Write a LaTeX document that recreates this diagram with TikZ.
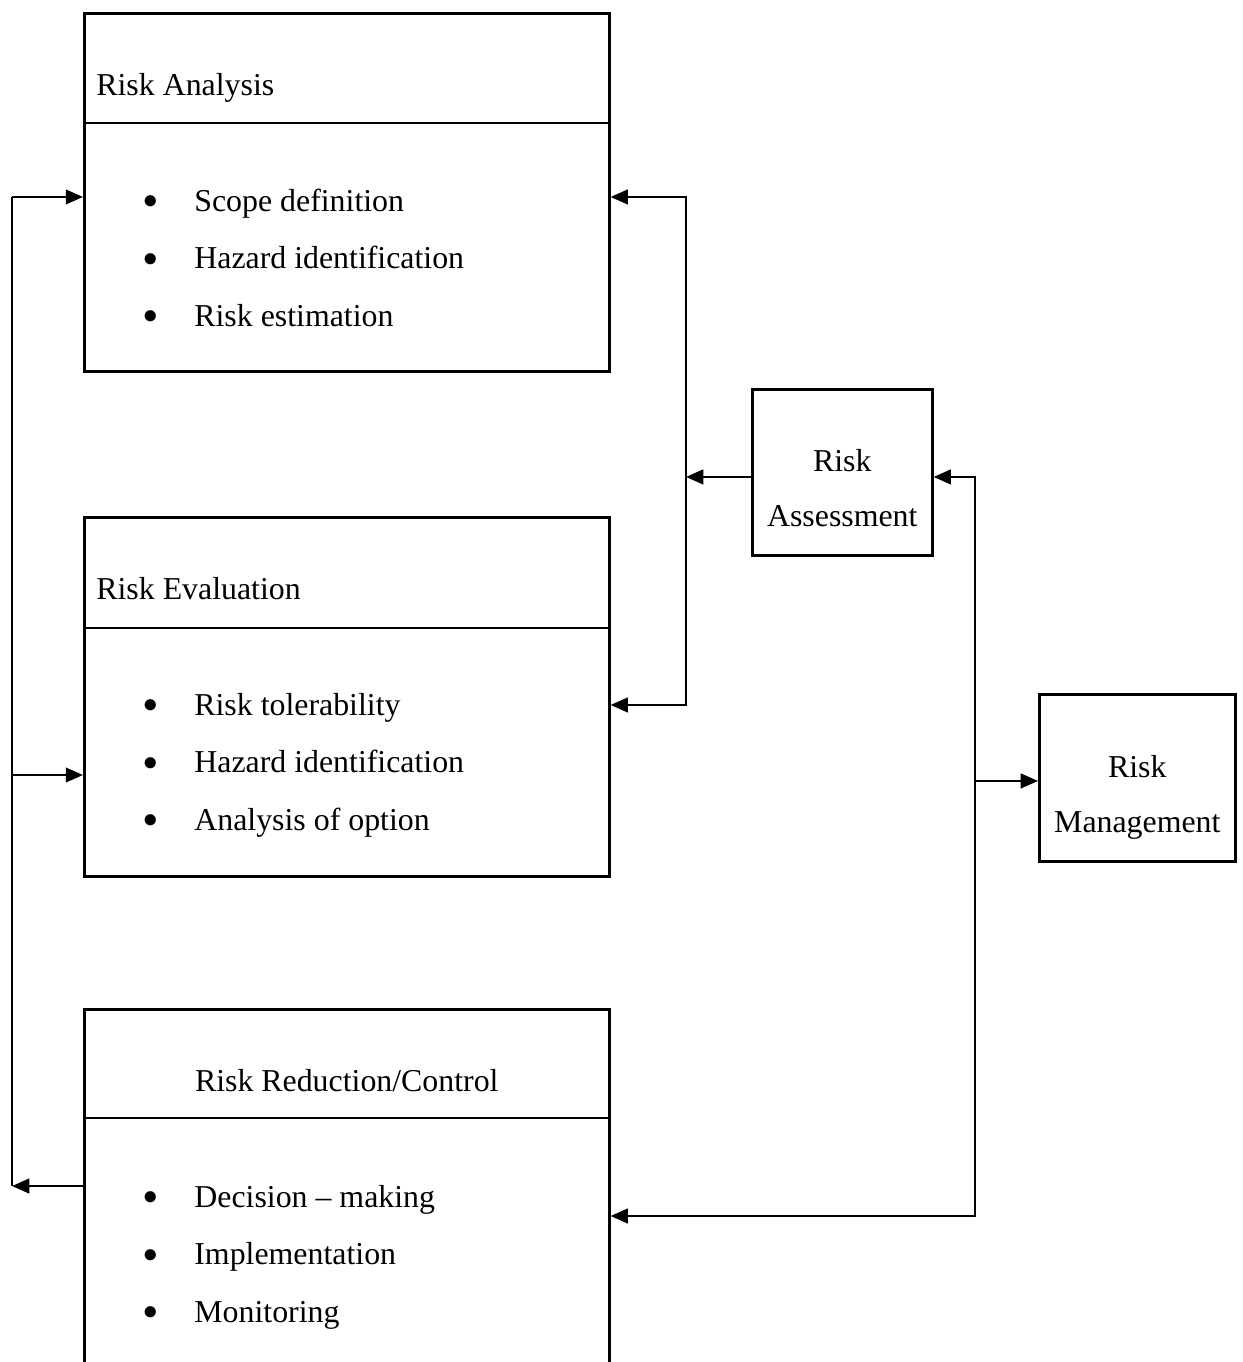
\documentclass[tikz,border=0pt]{standalone}
\usepackage{fontspec}
\setmainfont{Liberation Serif}
\usetikzlibrary{arrows.meta, calc, positioning}

\newcommand{\itemdot}{\raisebox{1pt}{\fontsize{11}{11}\selectfont$\bullet$}\hspace{0.475cm}}

\begin{document}
\begin{tikzpicture}[
    riskbox/.style={draw, line width=1pt, inner sep=0pt, anchor=north west},
    bigbox/.style={riskbox, minimum width=6.95cm},
    txt/.style={inner sep=0pt, anchor=base west},
    ctxt/.style={inner sep=0pt, anchor=base, align=center},
    link/.style={line width=0.9pt},
    every node/.style={font=\fontsize{12}{20.7}\selectfont},
    >={Triangle[length=6.5pt, width=5.5pt]},
  ]

  \useasboundingbox (0,0) rectangle (16.457,-18.033);
  \clip (0,0) rectangle (16.457,-18.033);

  % Boxes
  \node[bigbox, minimum height=4.74cm] (Analysis) at (1.099,-0.159) {};
  \node[bigbox, minimum height=4.753cm] (Evaluation) at (1.099,-6.832) {};
  \node[bigbox, minimum height=6cm] (Reduction) at (1.099,-13.346) {}; % runs off the bottom
  \node[riskbox, minimum width=2.383cm, minimum height=2.198cm] (Assessment) at (9.943,-5.137) {};
  \node[riskbox, minimum width=2.595cm, minimum height=2.211cm] (Management) at (13.743,-9.175) {};

  \draw[line width=1pt] ($(Analysis.north west)+(0,-1.47)$) -- ($(Analysis.north east)+(0,-1.47)$);
  \draw[line width=1pt] ($(Evaluation.north west)+(0,-1.483)$) -- ($(Evaluation.north east)+(0,-1.483)$);
  \draw[line width=1pt] ($(Reduction.north west)+(0,-1.456)$) -- ($(Reduction.north east)+(0,-1.456)$);

  % Texts
  \node[txt] (AnalysisHead) at ($(Analysis.north west)+(0.17,-1.099)$) {Risk Analysis};
  \node[txt] (Scope) at ($(Analysis.north west)+(0.8,-2.641)$) {\itemdot Scope definition};
  \node[txt] (HazardA) at ($(Scope.base west)+(0,-0.761)$) {\itemdot Hazard identification};
  \node[txt] (Estimation) at ($(HazardA.base west)+(0,-0.761)$) {\itemdot Risk estimation};

  \node[txt] (EvaluationHead) at ($(Evaluation.north west)+(0.17,-1.099)$) {Risk Evaluation};
  \node[txt] (Tolerability) at ($(Evaluation.north west)+(0.8,-2.641)$) {\itemdot Risk tolerability};
  \node[txt] (HazardE) at ($(Tolerability.base west)+(0,-0.761)$) {\itemdot Hazard identification};
  \node[txt] (Options) at ($(HazardE.base west)+(0,-0.761)$) {\itemdot Analysis of option};

  \node[ctxt] (ReductionHead) at ($(Reduction.north)+(0,-1.099)$) {Risk Reduction/Control};
  \node[txt] (Decision) at ($(Reduction.north west)+(0.8,-2.641)$) {\itemdot Decision – making};
  \node[txt] (Implementation) at ($(Decision.base west)+(0,-0.761)$) {\itemdot Implementation};
  \node[txt] (Monitoring) at ($(Implementation.base west)+(0,-0.761)$) {\itemdot Monitoring};

  \node[ctxt] (AssessmentText) at ($(Assessment.north)+(0,-1.836)$) {Risk\\Assessment};
  \node[ctxt] (ManagementText) at ($(Management.north)+(0,-1.853)$) {Risk\\Management};

  % Connections
  \coordinate (LeftBus) at (0.159,0);
  \coordinate (MidBus) at (9.083,0);
  \coordinate (RightBus) at (12.909,0);
  \coordinate (AnalysisL) at ($(Analysis.north west)+(0,-2.449)$);
  \coordinate (EvaluationL) at ($(Evaluation.north west)+(0,-3.429)$);
  \coordinate (ReductionL) at ($(Reduction.north west)+(0,-2.357)$);
  \coordinate (AnalysisR) at ($(Analysis.north east)+(0,-2.449)$);
  \coordinate (EvaluationR) at ($(Evaluation.north east)+(0,-2.502)$);
  \coordinate (ReductionR) at ($(Reduction.north east)+(0,-2.754)$);
  \coordinate (AssessmentL) at ($(Assessment.north west)+(0,-1.178)$);
  \coordinate (AssessmentR) at ($(Assessment.north east)+(0,-1.178)$);
  \coordinate (ManagementL) at ($(Management.north west)+(0,-1.165)$);

  \draw[link, ->] (ReductionL) -- (ReductionL -| LeftBus);
  \draw[link] (ReductionL -| LeftBus) -- (AnalysisL -| LeftBus);
  \draw[link, ->] (AnalysisL -| LeftBus) -- (AnalysisL);
  \draw[link, ->] (EvaluationL -| LeftBus) -- (EvaluationL);
  \draw[link, <->] (AnalysisR) -- (AnalysisR -| MidBus) -- (EvaluationR -| MidBus) -- (EvaluationR);
  \draw[link, ->] (AssessmentL) -- (AssessmentL -| MidBus);
  \draw[link, <->] (AssessmentR) -- (AssessmentR -| RightBus) -- (ReductionR -| RightBus) -- (ReductionR);
  \draw[link, ->] (ManagementL -| RightBus) -- (ManagementL);

\end{tikzpicture}
\end{document}
